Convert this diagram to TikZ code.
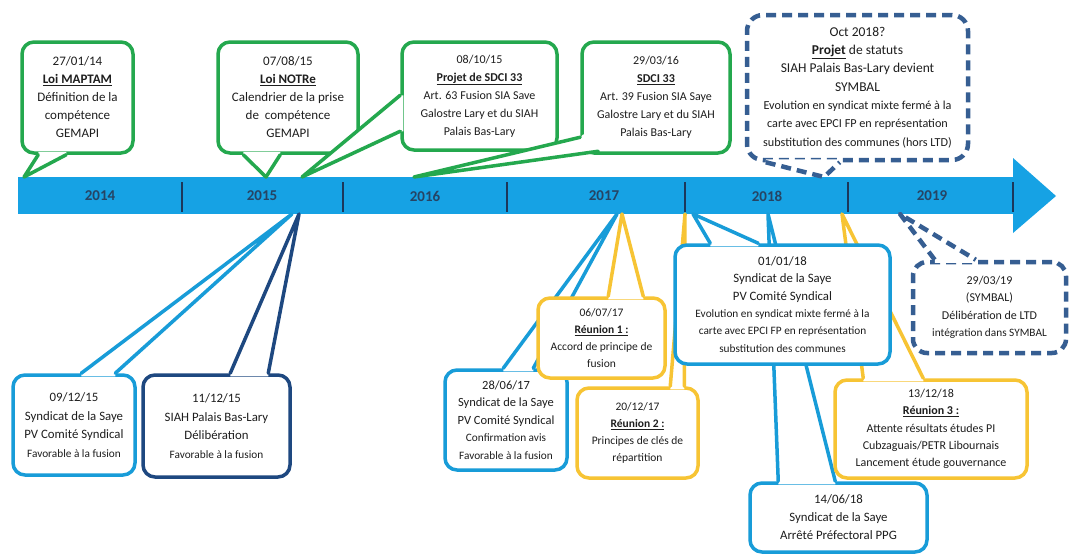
\documentclass[tikz,border=0pt]{standalone}
\usepackage{fontspec}
\setmainfont{Carlito}
\usetikzlibrary{calc}
\definecolor{gr}{RGB}{36,168,78}
\definecolor{lb}{RGB}{24,156,216}
\definecolor{nv}{RGB}{30,72,128}
\definecolor{ds}{RGB}{54,94,146}
\definecolor{yl}{RGB}{247,196,52}
\definecolor{barc}{RGB}{22,162,228}
\definecolor{dv}{RGB}{28,55,90}
\definecolor{yrc}{RGB}{38,68,100}
\definecolor{txt}{RGB}{30,30,30}
\newcommand\fz[2]{\fontsize{#1}{#2}\selectfont}
\newcommand\sz[2]{{\fontsize{#1}{#1}\selectfont #2}}
\newcommand\ttl[1]{\underline{\textbf{#1}}}
% callout tail: name, style, anchor, offset1, offset2, tip, inward vector
\newcommand\ctail[7]{%
  \coordinate (#1l) at ($(#1.#3)+#4$);
  \coordinate (#1r) at ($(#1.#3)+#5$);
  \coordinate (#1t) at #6;
  \fill[white] ($(#1l)+#7$) -- (#1l) -- (#1t) -- (#1r) -- ($(#1r)+#7$) -- cycle;
  \draw[#2] (#1l) -- (#1t) -- (#1r);}
\begin{document}
\begin{tikzpicture}[x=1pt,y=-1pt,
  cb/.style={rounded corners=12pt, line width=3.5pt, fill=white, inner sep=0pt, align=center, text=txt},
  tl/.style={line width=3.5pt, line cap=round, line join=round},
  dsh/.style={dash pattern=on 10pt off 6pt, line width=4.5pt},
  yrs/.style={font=\bfseries\fz{15}{15}, text=yrc, inner sep=0pt},
]
\useasboundingbox (0,0) rectangle (1072,554);
\fill[white] (0,0) rectangle (1072,554);

% timeline bar
\fill[barc] (18,177) rectangle (1015,214);
\fill[barc] (1013,158) -- (1056,196) -- (1013,233) -- cycle;
\foreach \x in {182,343,507,685,848,1013} \draw[dv, line width=2.5pt] (\x,182) -- (\x,212);
\node[yrs] (y14) at (100,196) {2014};
\node[yrs] (y15) at (262,196) {2015};
\node[yrs] (y16) at (425,196) {2016};
\node[yrs] (y17) at (604,196) {2017};
\node[yrs] (y18) at (767,196) {2018};
\node[yrs] (y19) at (932,196) {2019};

% ---- top callouts
\node[cb, draw=gr, font=\fz{13}{18}, minimum width=111pt, minimum height=111pt] (b1) at (77.5,97.5)
  {27/01/14\\\ttl{Loi MAPTAM}\\Définition de la\\compétence\\GEMAPI};
\ctail{b1}{gr,tl}{south west}{(18,0)}{(46,0)}{(24,177)}{(0,-3)}

\node[cb, draw=gr, font=\fz{13}{18}, minimum width=140pt, minimum height=111pt] (b2) at (288,97.5)
  {07/08/15\\\ttl{Loi NOTRe}\\Calendrier de la prise\\de~~compétence\\GEMAPI};
\ctail{b2}{gr,tl}{south west}{(27,0)}{(64,0)}{(266,177)}{(0,-3)}

\node[cb, draw=gr, font=\fz{12}{18}, minimum width=155pt, minimum height=108pt] (b3) at (479.5,96)
  {08/10/15\\\ttl{Projet de SDCI 33}\\Art. 63 Fusion SIA Save\\Galostre Lary et du SIAH\\Palais Bas-Lary};
\ctail{b3}{gr,tl}{north west}{(0,55)}{(0,91)}{(302,177)}{(3,0)}

\node[cb, draw=gr, font=\fz{12}{18}, minimum width=148pt, minimum height=111pt] (b4) at (656,97.5)
  {29/03/16\\\ttl{SDCI 33}\\Art. 39 Fusion SIA Saye\\Galostre Lary et du SIAH\\Palais Bas-Lary};
\ctail{b4}{gr,tl}{north west}{(0,97)}{(18,111)}{(414,177)}{(3,-3)}

\node[cb, draw=ds, dsh, rounded corners=16pt, font=\fz{13.5}{18.3}, minimum width=221pt, minimum height=145pt] (b5) at (857.5,87.5)
  {Oct 2018?\\\ttl{Projet} de statuts\\SIAH Palais Bas-Lary devient\\SYMBAL\\\sz{12.2}{Evolution en syndicat mixte fermé à la}\\\sz{12.2}{carte avec EPCI FP en représentation}\\\sz{12.2}{substitution des communes (hors LTD)}};
\ctail{b5}{ds,dsh,line join=round}{south west}{(21,0)}{(95,0)}{(824,177)}{(0,-3)}

% ---- bottom callouts
\node[cb, draw=lb, font=\fz{12.8}{18.5}, minimum width=122pt, minimum height=100pt] (b6) at (74,425)
  {09/12/15\\Syndicat de la Saye\\PV Comité Syndical\\\sz{11.3}{Favorable à la fusion}};
\ctail{b6}{lb,tl}{north west}{(70,0)}{(104,0)}{(292,214)}{(0,3)}

\node[cb, draw=nv, font=\fz{12.8}{18.5}, minimum width=147pt, minimum height=102pt] (b7) at (216.5,426)
  {11/12/15\\SIAH Palais Bas-Lary\\Délibération\\\sz{11.3}{Favorable à la fusion}};
\ctail{b7}{nv,tl}{north west}{(89,0)}{(127,0)}{(299,214)}{(0,3)}

\node[cb, draw=lb, font=\fz{12.5}{17.5}, minimum width=122pt, minimum height=100pt] (b8) at (506,420)
  {28/06/17\\Syndicat de la Saye\\PV Comité Syndical\\\sz{11.3}{Confirmation avis}\\\sz{11.3}{Favorable à la fusion}};
\ctail{b8}{lb,tl}{north west}{(60,0)}{(90,0)}{(617,214)}{(0,3)}

\node[cb, draw=yl, font=\fz{11.5}{17}, minimum width=127pt, minimum height=80pt] (b9) at (601.5,338)
  {06/07/17\\\ttl{Réunion 1 :}\\Accord de principe de\\fusion};
\ctail{b9}{yl,tl}{north west}{(72,0)}{(107,0)}{(622,214)}{(0,3)}

\node[cb, draw=yl, font=\fz{11.5}{17}, minimum width=121pt, minimum height=90pt] (b10) at (637.5,433)
  {20/12/17\\\ttl{Réunion 2 :}\\Principes de clés de\\répartition};
\ctail{b10}{yl,tl}{north west}{(95,0)}{(109,0)}{(685,214)}{(0,3)}

\node[cb, draw=lb, font=\fz{12.8}{18}, minimum width=177pt, minimum height=69pt] (b12) at (838.5,517.5)
  {14/06/18\\Syndicat de la Saye\\Arrêté Préfectoral PPG};
\ctail{b12}{lb,tl}{north west}{(30,0)}{(87,0)}{(768,214)}{(0,3)}

\node[cb, draw=yl, font=\fz{12}{17.2}, minimum width=192pt, minimum height=98pt] (b13) at (931,429)
  {13/12/18\\\ttl{Réunion 3 :}\\Attente résultats études PI\\Cubzaguais/PETR Libournais\\Lancement étude gouvernance};
\ctail{b13}{yl,tl}{north west}{(30,0)}{(90,0)}{(842,214)}{(0,3)}

\node[cb, draw=lb, font=\fz{12.8}{17.3}, minimum width=215pt, minimum height=119pt] (b11) at (782.5,304.5)
  {01/01/18\\Syndicat de la Saye\\PV Comité Syndical\\\sz{11.3}{Evolution en syndicat mixte fermé à la}\\\sz{11.3}{carte avec EPCI FP en représentation}\\\sz{11.3}{substitution des communes}};
\ctail{b11}{lb,tl}{north west}{(37,0)}{(85,0)}{(693,214)}{(0,3)}

\node[cb, draw=ds, dsh, rounded corners=14pt, font=\fz{12}{17.5}, minimum width=153pt, minimum height=91pt] (b14) at (989.5,307.5)
  {29/03/19\\(SYMBAL)\\Délibération de LTD\\\sz{11.3}{intégration dans SYMBAL}};
\ctail{b14}{ds,dsh,line join=round}{north west}{(24,0)}{(65,0)}{(900,214)}{(0,3)}
\end{tikzpicture}
\end{document}
